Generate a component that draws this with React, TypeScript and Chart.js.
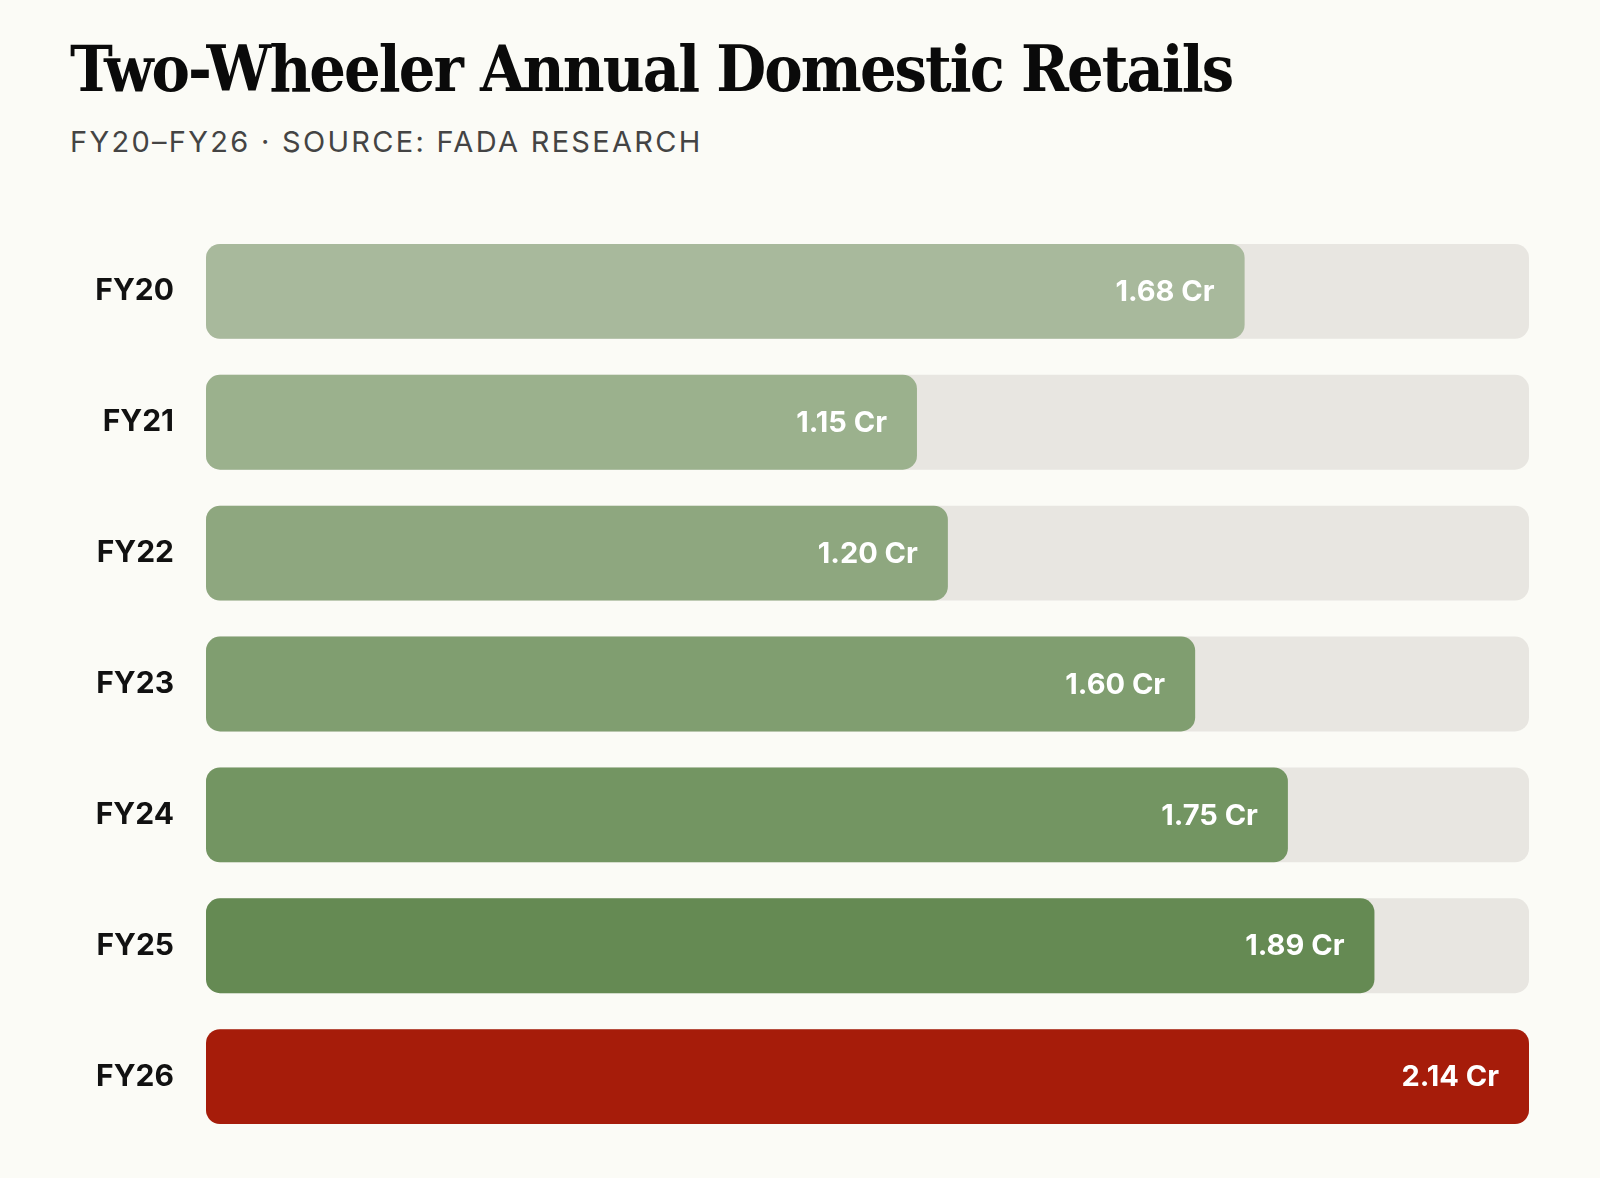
import React, { useEffect, useRef } from "react";
import { Chart, registerables } from "chart.js";

Chart.register(...registerables);

const categories = ["FY20", "FY21", "FY22", "FY23", "FY24", "FY25", "FY26"];
const retails = [1.68, 1.15, 1.2, 1.6, 1.75, 1.89, 2.14];
const barColors = ["#a8b99c", "#9bb18d", "#8ea77f", "#809e70", "#739562", "#658a53", "#a61c0a"];
const trackColor = "#e8e6e1";
const unit = " Cr";

const valueLabels = {
  id: "valueLabels",
  afterDatasetsDraw(chart: any) {
    const ctx = chart.ctx;
    const meta = chart.getDatasetMeta(0);
    ctx.save();
    ctx.font = "700 29px Inter";
    ctx.fillStyle = "#ffffff";
    ctx.textAlign = "right";
    ctx.textBaseline = "middle";
    meta.data.forEach((bar: any, i: number) => {
      const v = chart.data.datasets[0].data[i] as number;
      ctx.fillText(v.toFixed(2) + unit, bar.x - 30, bar.y + 1);
    });
    ctx.restore();
  },
};

export default function App() {
  const ref = useRef<HTMLCanvasElement | null>(null);
  useEffect(() => {
    document.body.style.margin = "0";
    document.body.style.background = "#fbfbf6";
    const maxV = Math.max(...retails);
    const chart = new Chart(ref.current as HTMLCanvasElement, {
      type: "bar",
      data: {
        labels: categories,
        datasets: [
          {
            data: retails,
            backgroundColor: barColors,
            borderRadius: 14,
            borderSkipped: false,
            barPercentage: 0.725,
            categoryPercentage: 1,
            grouped: false,
          },
          {
            data: categories.map(() => maxV),
            backgroundColor: trackColor,
            borderRadius: 14,
            borderSkipped: false,
            barPercentage: 0.725,
            categoryPercentage: 1,
            grouped: false,
          },
        ],
      },
      options: {
        indexAxis: "y",
        animation: false,
        responsive: false,
        devicePixelRatio: 1,
        layout: { padding: { left: 0, top: 226, right: 71, bottom: 36 } },
        plugins: { legend: { display: false }, tooltip: { enabled: false } },
        scales: {
          x: { display: false, min: 0, max: maxV },
          y: {
            grid: { display: false, drawTicks: false },
            border: { display: false },
            ticks: {
              padding: 32,
              color: "#111111",
              font: { family: "Inter", size: 30, weight: 700 },
            },
            afterFit(scale: any) {
              scale.width = 206;
              scale.paddingTop = 0;
              scale.paddingBottom = 0;
            },
          },
        },
      },
      plugins: [valueLabels],
    });
    return () => chart.destroy();
  }, []);

  return (
    <div style={{ position: "relative", width: 1600, height: 1178, background: "#fbfbf6", overflow: "hidden" }}>
      <div
        style={{
          position: "absolute",
          left: 70,
          top: 29,
          fontFamily: "'DejaVu Serif Condensed', 'DejaVu Serif', serif",
          fontWeight: 700,
          fontSize: 64,
          lineHeight: "80px",
          color: "#0a0a0a",
          letterSpacing: "-1.9px",
          whiteSpace: "nowrap",
        }}
      >
        Two-Wheeler Annual Domestic Retails
      </div>
      <div
        style={{
          position: "absolute",
          left: 70,
          top: 122,
          fontFamily: "Inter, sans-serif",
          fontWeight: 400,
          fontSize: 29,
          lineHeight: "40px",
          color: "#444444",
          letterSpacing: "2.3px",
          whiteSpace: "nowrap",
        }}
      >
        FY20–FY26 · SOURCE: FADA RESEARCH
      </div>
      <canvas ref={ref} width={1600} height={1178} style={{ position: "absolute", left: 0, top: 0 }} />
    </div>
  );
}
